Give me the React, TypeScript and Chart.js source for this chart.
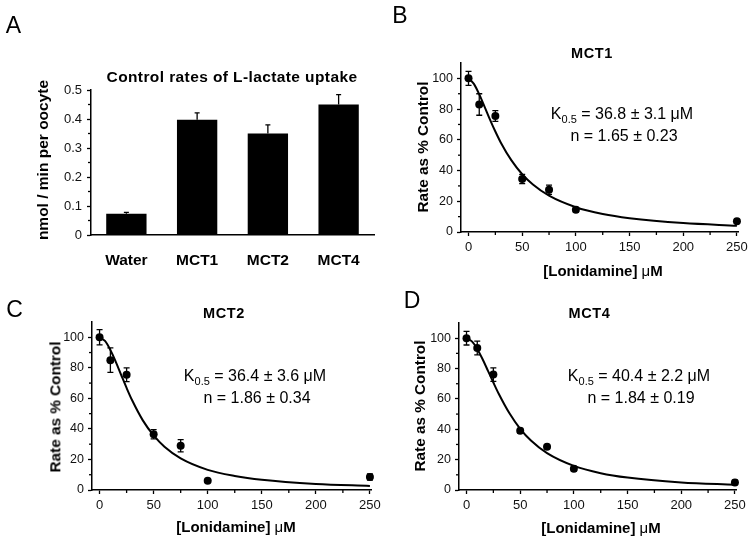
import React, { useEffect, useRef } from "react";
import { Chart, registerables } from "chart.js";
Chart.register(...registerables);

const FONT = "'Liberation Sans', Arial, Helvetica, sans-serif";
Chart.defaults.font.family = FONT;
Chart.defaults.color = "#111";

// ---------- Panel A data ----------
const BAR_CATEGORIES = ["Water", "MCT1", "MCT2", "MCT4"];
const BAR_VALUES = [0.073, 0.397, 0.35, 0.45];
const BAR_ERRORS = [0.005, 0.024, 0.03, 0.034];
const BAR_MINOR_TICKS = [0.05, 0.15, 0.25, 0.35, 0.45];

// ---------- Panels B–D data ----------
const CONC = [0, 10, 25, 50, 75, 100, 250];
const MCT1_RATE = [100, 83, 75.5, 34.5, 27.5, 14.5, 7];
const MCT1_ERR = [4.5, 7, 3.5, 3, 3, 1.5, 1];
const MCT2_RATE = [100, 85, 75.5, 36.5, 29, 6, 8.5];
const MCT2_ERR = [5, 8, 4.5, 3, 4, 1, 2];
const MCT4_RATE = [100, 93.5, 76, 39, 28.5, 14, 5];
const MCT4_ERR = [4.5, 4.5, 4.5, 1.5, 1, 1.5, 1.5];

// fitted curves
const CURVE_CONC = [0, 5, 10, 15, 20, 25, 30, 40, 50, 60, 75, 100, 125, 150, 200, 250];
const MCT1_FIT = [100, 96.4, 89.6, 81.5, 73.2, 65.4, 58.3, 46.6, 37.6, 30.9, 23.6, 16.1, 11.7, 9.0, 5.8, 4.1];
const MCT2_FIT = [100, 97.6, 91.7, 83.9, 75.3, 66.8, 58.9, 45.6, 35.7, 28.3, 20.7, 13.2, 9.2, 6.7, 4.0, 2.7];
const MCT4_FIT = [100, 97.9, 92.9, 86.1, 78.5, 70.8, 63.4, 50.5, 40.3, 32.6, 24.3, 15.9, 11.1, 8.2, 5.0, 3.4];

const X_MINOR_TICKS = [25, 75, 125, 175, 225];
const Y_MINOR_TICKS = [10, 30, 50, 70, 90];

type Box = { left: number; top: number; width: number; height: number; padL: number; padT: number; padR: number; padB: number };

function decorPlugin(
  xs: (number | null)[],
  ys: number[],
  errs: number[],
  upOnly: boolean,
  capHalf: number,
  xMinor: number[],
  yMinor: number[]
) {
  return {
    id: "decor",
    afterDatasetsDraw(chart: any) {
      const ctx = chart.ctx;
      const xS = chart.scales.x;
      const yS = chart.scales.y;
      const area = chart.chartArea;
      ctx.save();
      ctx.strokeStyle = "#000";
      ctx.lineWidth = 1.3;
      ys.forEach((v, i) => {
        const px = xS.getPixelForValue(xs[i] === null ? i : (xs[i] as number));
        const pTop = yS.getPixelForValue(v + errs[i]);
        const pBot = upOnly ? yS.getPixelForValue(v) : yS.getPixelForValue(v - errs[i]);
        ctx.beginPath();
        ctx.moveTo(px, pBot);
        ctx.lineTo(px, pTop);
        ctx.moveTo(px - capHalf, pTop);
        ctx.lineTo(px + capHalf, pTop);
        if (!upOnly) {
          ctx.moveTo(px - capHalf, pBot);
          ctx.lineTo(px + capHalf, pBot);
        }
        ctx.stroke();
      });
      ctx.lineWidth = 1.3;
      xMinor.forEach((v) => {
        const px = xS.getPixelForValue(v);
        ctx.beginPath();
        ctx.moveTo(px, area.bottom);
        ctx.lineTo(px, area.bottom + 3);
        ctx.stroke();
      });
      yMinor.forEach((v) => {
        const py = yS.getPixelForValue(v);
        ctx.beginPath();
        ctx.moveTo(area.left, py);
        ctx.lineTo(area.left - 3, py);
        ctx.stroke();
      });
      ctx.restore();
    },
  };
}

const axisCommon = {
  border: { display: true, color: "#000", width: 1.5 },
  grid: { display: true, drawOnChartArea: false, drawTicks: true, tickLength: 4, tickColor: "#000", tickWidth: 1.3 },
};

function BarPanel({ box }: { box: Box }) {
  const ref = useRef<HTMLCanvasElement>(null);
  useEffect(() => {
    const chart = new Chart(ref.current!, {
      type: "bar",
      data: {
        labels: BAR_CATEGORIES,
        datasets: [
          {
            data: BAR_VALUES,
            backgroundColor: "#000",
            borderWidth: 0,
            barPercentage: 0.57,
            categoryPercentage: 1,
          },
        ],
      },
      options: {
        animation: false,
        responsive: false,
        devicePixelRatio: 1,
        layout: { padding: { left: box.padL, top: box.padT, right: box.padR, bottom: box.padB } },
        plugins: { legend: { display: false }, tooltip: { enabled: false } },
        scales: {
          x: {
            type: "category",
            border: { display: true, color: "#000", width: 1.5 },
            grid: { display: false },
            ticks: { color: "#000", font: { size: 15.5, weight: "bold" }, padding: 8, maxRotation: 0 },
            afterFit: (s: any) => {
              s.height = 30;
            },
          },
          y: {
            ...axisCommon,
            min: 0,
            max: 0.5,
            ticks: { stepSize: 0.1, color: "#111", font: { size: 13 }, padding: 5 },
            afterFit: (s: any) => {
              s.width = 40;
            },
          },
        },
      } as any,
      plugins: [decorPlugin([null, null, null, null], BAR_VALUES, BAR_ERRORS, true, 2.5, [], BAR_MINOR_TICKS)],
    });
    return () => chart.destroy();
  }, []);
  return (
    <canvas
      ref={ref}
      width={box.width}
      height={box.height}
      style={{ position: "absolute", left: box.left, top: box.top, width: box.width, height: box.height }}
    />
  );
}

function CurvePanel({ box, rate, err, fit }: { box: Box; rate: number[]; err: number[]; fit: number[] }) {
  const ref = useRef<HTMLCanvasElement>(null);
  useEffect(() => {
    const chart = new Chart(ref.current!, {
      type: "scatter",
      data: {
        datasets: [
          {
            data: CURVE_CONC.map((x, i) => ({ x, y: fit[i] })),
            showLine: true,
            borderColor: "#000",
            borderWidth: 2,
            pointRadius: 0,
            cubicInterpolationMode: "monotone",
            fill: false,
          },
          {
            data: CONC.map((x, i) => ({ x, y: rate[i] })),
            pointRadius: 4,
            pointBackgroundColor: "#000",
            pointBorderColor: "#000",
            pointBorderWidth: 0,
            clip: false,
          },
        ],
      },
      options: {
        animation: false,
        responsive: false,
        devicePixelRatio: 1,
        layout: { padding: { left: box.padL, top: box.padT, right: box.padR, bottom: box.padB } },
        plugins: { legend: { display: false }, tooltip: { enabled: false } },
        scales: {
          x: {
            ...axisCommon,
            type: "linear",
            min: -7,
            max: 251,
            ticks: { stepSize: 50, includeBounds: false, color: "#111", font: { size: 13 }, padding: 4, maxRotation: 0 },
            afterFit: (s: any) => {
              s.height = 30;
            },
          },
          y: {
            ...axisCommon,
            type: "linear",
            min: 0,
            max: 110,
            ticks: { stepSize: 20, includeBounds: false, color: "#111", font: { size: 12.5 }, padding: 4 },
            afterFit: (s: any) => {
              s.width = 40;
            },
          },
        },
      } as any,
      plugins: [decorPlugin(CONC, rate, err, false, 3, X_MINOR_TICKS, Y_MINOR_TICKS)],
    });
    return () => chart.destroy();
  }, []);
  return (
    <canvas
      ref={ref}
      width={box.width}
      height={box.height}
      style={{ position: "absolute", left: box.left, top: box.top, width: box.width, height: box.height }}
    />
  );
}

function Txt({
  x,
  y,
  size,
  bold,
  rotate,
  spacing,
  children,
}: {
  x: number;
  y: number;
  size: number;
  bold?: boolean;
  rotate?: boolean;
  spacing?: number;
  children: React.ReactNode;
}) {
  return (
    <div
      style={{
        position: "absolute",
        left: x,
        top: y,
        transform: `translate(-50%, -50%)${rotate ? " rotate(-90deg)" : ""}`,
        fontSize: size,
        fontWeight: bold ? "bold" : "normal",
        whiteSpace: "nowrap",
        lineHeight: 1,
        letterSpacing: spacing ?? 0,
        fontFamily: FONT,
        color: "#000",
      }}
    >
      {children}
    </div>
  );
}

const Mu = () => <span style={{ fontWeight: "normal" }}>μ</span>;

function KText({ x, y, k, n }: { x: number; y: number; k: string; n: string }) {
  return (
    <>
      <Txt x={x} y={y} size={16}>
        K
        <span style={{ fontSize: 11, position: "relative", top: 4 }}>0.5</span> = {k} μM
      </Txt>
      <Txt x={x + 2} y={y + 22} size={16}>
        n = {n}
      </Txt>
    </>
  );
}

export default function App() {
  const boxA: Box = { left: 0, top: 0, width: 377, height: 270, padL: 51, padT: 90, padR: 3, padB: 5 };
  const boxB: Box = { left: 377, top: 0, width: 377, height: 282, padL: 44, padT: 63, padR: 16, padB: 20 };
  const boxC: Box = { left: 0, top: 270, width: 392, height: 271, padL: 52, padT: 52, padR: 21, padB: 21 };
  const boxD: Box = { left: 377, top: 270, width: 377, height: 271, padL: 42, padT: 53, padR: 18, padB: 21 };
  return (
    <div style={{ position: "absolute", left: 0, top: 0, width: 754, height: 541, background: "#fff", overflow: "hidden", fontFamily: FONT }}>
      <BarPanel box={boxA} />
      <CurvePanel box={boxB} rate={MCT1_RATE} err={MCT1_ERR} fit={MCT1_FIT} />
      <CurvePanel box={boxC} rate={MCT2_RATE} err={MCT2_ERR} fit={MCT2_FIT} />
      <CurvePanel box={boxD} rate={MCT4_RATE} err={MCT4_ERR} fit={MCT4_FIT} />

      <Txt x={13.5} y={24.5} size={23}>A</Txt>
      <Txt x={400} y={15} size={23}>B</Txt>
      <Txt x={14.5} y={308.5} size={23}>C</Txt>
      <Txt x={412} y={300} size={23}>D</Txt>

      <Txt x={232} y={77} size={15.5} bold spacing={0.4}>Control rates of L-lactate uptake</Txt>
      <Txt x={42.5} y={160} size={15.5} bold rotate>nmol / min per oocyte</Txt>

      <Txt x={592} y={53} size={14.5} bold spacing={0.6}>MCT1</Txt>
      <Txt x={224} y={313} size={14.5} bold spacing={0.6}>MCT2</Txt>
      <Txt x={589.5} y={313} size={14.5} bold spacing={0.6}>MCT4</Txt>

      <Txt x={423} y={147} size={15.3} bold rotate>Rate as % Control</Txt>
      <Txt x={55} y={407} size={15.3} bold rotate>Rate as % Control</Txt>
      <Txt x={420} y={406} size={15.3} bold rotate>Rate as % Control</Txt>

      <Txt x={603} y={270} size={15} bold>[Lonidamine] <Mu />M</Txt>
      <Txt x={236} y={526} size={15} bold>[Lonidamine] <Mu />M</Txt>
      <Txt x={601} y={527} size={15} bold>[Lonidamine] <Mu />M</Txt>

      <KText x={622} y={114} k="36.8 ± 3.1" n="1.65 ± 0.23" />
      <KText x={255} y={376} k="36.4 ± 3.6" n="1.86 ± 0.34" />
      <KText x={639} y={376} k="40.4 ± 2.2" n="1.84 ± 0.19" />
    </div>
  );
}
